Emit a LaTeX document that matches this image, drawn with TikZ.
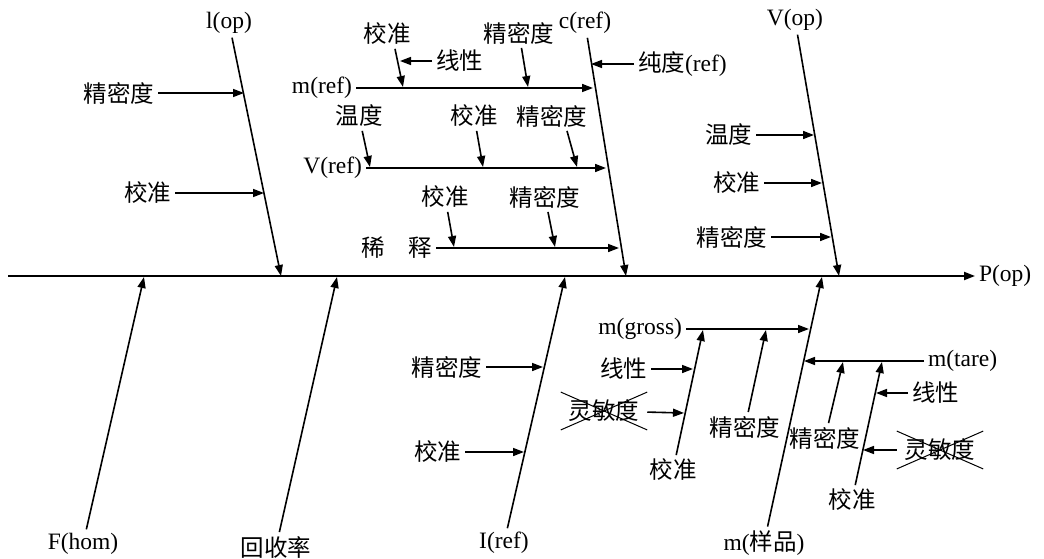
\documentclass[tikz,border=0pt]{standalone}
\usepackage{fontspec}
\setmainfont{Liberation Serif}
\newfontfamily\cjk{Noto Sans CJK SC}
\usetikzlibrary{arrows.meta}
\tikzset{
  lab/.style={inner sep=2pt, outer sep=2pt, font=\fontsize{23.5}{27}\selectfont},
  crossed/.style={lab, inner xsep=8pt, inner ysep=8pt, outer sep=0pt},
  bone/.style={line width=1.6pt, ->},
  spine/.style={line width=2pt, ->},
}
\begin{document}
\begin{tikzpicture}[x=1pt, y=-1pt, >={Triangle[length=11pt,width=8pt]}]
\useasboundingbox (0,0) rectangle (1044,559);
% spina
\coordinate (s0) at (8,276);
\node[lab, anchor=west] (pop) at (975,276) {P(op)};
\draw[spine] (s0) -- (pop);
% l(op)
\node[lab] (lop) at (229,23) {l(op)};
\coordinate (lop-t) at (281,276);
\draw[bone] (lop) -- (lop-t);
\node[lab, anchor=east] (lop-p) at (158,93) {{\cjk 精密度}};
\coordinate (lop-pt) at (244,93);
\draw[bone] (lop-p) -- (lop-pt);
\node[lab, anchor=east] (lop-c) at (175,193) {{\cjk 校准}};
\coordinate (lop-ct) at (264,193);
\draw[bone] (lop-c) -- (lop-ct);
% c(ref)
\node[lab] (cref) at (585,23) {c(ref)};
\coordinate (cref-t) at (626,276);
\draw[bone] (cref) -- (cref-t);
\node[lab, anchor=west] (cpur) at (634,64) {{\cjk 纯度}(ref)};
\coordinate (cpur-t) at (591,64);
\draw[bone] (cpur) -- (cpur-t);
% m(ref)
\node[lab, anchor=east] (mref) at (356,88) {m(ref)};
\coordinate (mref-t) at (593,88);
\draw[bone] (mref) -- (mref-t);
\node[lab] (mref-c) at (387,34) {{\cjk 校准}};
\coordinate (mref-ct) at (403,87);
\draw[bone] ([xshift=8pt]mref-c.south) -- (mref-ct);
\node[lab, anchor=west] (mref-l) at (432,61) {{\cjk 线性}};
\coordinate (mref-lt) at (400,61);
\draw[bone] (mref-l) -- (mref-lt);
\node[lab] (mref-p) at (519,33) {{\cjk 精密度}};
\coordinate (mref-pt) at (528,87);
\draw[bone] (mref-p) -- (mref-pt);
% V(ref)
\node[lab, anchor=east] (vref) at (366,168) {V(ref)};
\coordinate (vref-t) at (606,168);
\draw[bone] (vref) -- (vref-t);
\node[lab] (vref-w) at (359,116) {{\cjk 温度}};
\coordinate (vref-wt) at (370,167);
\draw[bone] (vref-w) -- (vref-wt);
\node[lab] (vref-c) at (474,116) {{\cjk 校准}};
\coordinate (vref-ct) at (483,167);
\draw[bone] (vref-c) -- (vref-ct);
\node[lab] (vref-p) at (552,116) {{\cjk 精密度}};
\coordinate (vref-pt) at (577,167);
\draw[bone] ([xshift=15pt]vref-p.south) -- (vref-pt);
% diluizione
\node[lab, anchor=east] (dil) at (436,248) {{\cjk 稀　释}};
\coordinate (dil-t) at (619,248);
\draw[bone] (dil) -- (dil-t);
\node[lab] (dil-c) at (445,197) {{\cjk 校准}};
\coordinate (dil-ct) at (454,247);
\draw[bone] (dil-c) -- (dil-ct);
\node[lab] (dil-p) at (545,197) {{\cjk 精密度}};
\coordinate (dil-pt) at (555,247);
\draw[bone] (dil-p) -- (dil-pt);
% V(op)
\node[lab] (vop) at (795,20) {V(op)};
\coordinate (vop-t) at (839,276);
\draw[bone] (vop) -- (vop-t);
\node[lab, anchor=east] (vop-w) at (756,135) {{\cjk 温度}};
\coordinate (vop-wt) at (814,135);
\draw[bone] (vop-w) -- (vop-wt);
\node[lab, anchor=east] (vop-c) at (764,183) {{\cjk 校准}};
\coordinate (vop-ct) at (822,183);
\draw[bone] (vop-c) -- (vop-ct);
\node[lab, anchor=east] (vop-p) at (771,237) {{\cjk 精密度}};
\coordinate (vop-pt) at (831,237);
\draw[bone] (vop-p) -- (vop-pt);
% F(hom), recupero
\node[lab] (fhom) at (83,544) {F(hom)};
\coordinate (fhom-t) at (144,277);
\draw[bone] (fhom) -- (fhom-t);
\node[lab] (rec) at (276,547) {{\cjk 回收率}};
\coordinate (rec-t) at (337,277);
\draw[bone] (rec) -- (rec-t);
% I(ref)
\node[lab] (iref) at (504,543) {I(ref)};
\coordinate (iref-t) at (565,277);
\draw[bone] (iref) -- (iref-t);
\node[lab, anchor=east] (iref-p) at (486,367) {{\cjk 精密度}};
\coordinate (iref-pt) at (543,367);
\draw[bone] (iref-p) -- (iref-pt);
\node[lab, anchor=east] (iref-c) at (465,452) {{\cjk 校准}};
\coordinate (iref-ct) at (524,452);
\draw[bone] (iref-c) -- (iref-ct);
% m(campione)
\node[lab] (msam) at (764,543) {m({\cjk 样品})};
\coordinate (msam-t) at (822,277);
\draw[bone] (msam) -- (msam-t);
% m(gross)
\node[lab, anchor=east] (mgro) at (686,329) {m(gross)};
\coordinate (mgro-t) at (809,329);
\draw[bone] (mgro) -- (mgro-t);
\node[lab] (mgro-c) at (673,470) {{\cjk 校准}};
\coordinate (mgro-ct) at (703,330);
\draw[bone] (mgro-c) -- (mgro-ct);
\node[lab, anchor=east] (mgro-l) at (651,369) {{\cjk 线性}};
\coordinate (mgro-lt) at (693,369);
\draw[bone] (mgro-l) -- (mgro-lt);
\node[crossed] (mgro-s) at (604,411) {{\cjk 灵敏度}};
\draw[line width=1pt] (mgro-s.north west) -- (mgro-s.south east) (mgro-s.south west) -- (mgro-s.north east);
\coordinate (mgro-st) at (684,413);
\draw[bone] (mgro-s) -- (mgro-st);
\node[lab] (mgro-p) at (745,427) {{\cjk 精密度}};
\coordinate (mgro-pt) at (766,330);
\draw[bone] (mgro-p) -- (mgro-pt);
% m(tare)
\node[lab, anchor=west] (mtar) at (924,361) {m(tare)};
\coordinate (mtar-t) at (804,361);
\draw[bone] (mtar) -- (mtar-t);
\node[lab] (mtar-p) at (825,438) {{\cjk 精密度}};
\coordinate (mtar-pt) at (843,362);
\draw[bone] (mtar-p) -- (mtar-pt);
\node[lab] (mtar-c) at (852,500) {{\cjk 校准}};
\coordinate (mtar-ct) at (882,362);
\draw[bone] (mtar-c) -- (mtar-ct);
\node[lab, anchor=west] (mtar-l) at (908,393) {{\cjk 线性}};
\coordinate (mtar-lt) at (876,393);
\draw[bone] (mtar-l) -- (mtar-lt);
\node[crossed] (mtar-s) at (940,450) {{\cjk 灵敏度}};
\draw[line width=1pt] (mtar-s.north west) -- (mtar-s.south east) (mtar-s.south west) -- (mtar-s.north east);
\coordinate (mtar-st) at (863,450);
\draw[bone] (mtar-s) -- (mtar-st);
\end{tikzpicture}
\end{document}
